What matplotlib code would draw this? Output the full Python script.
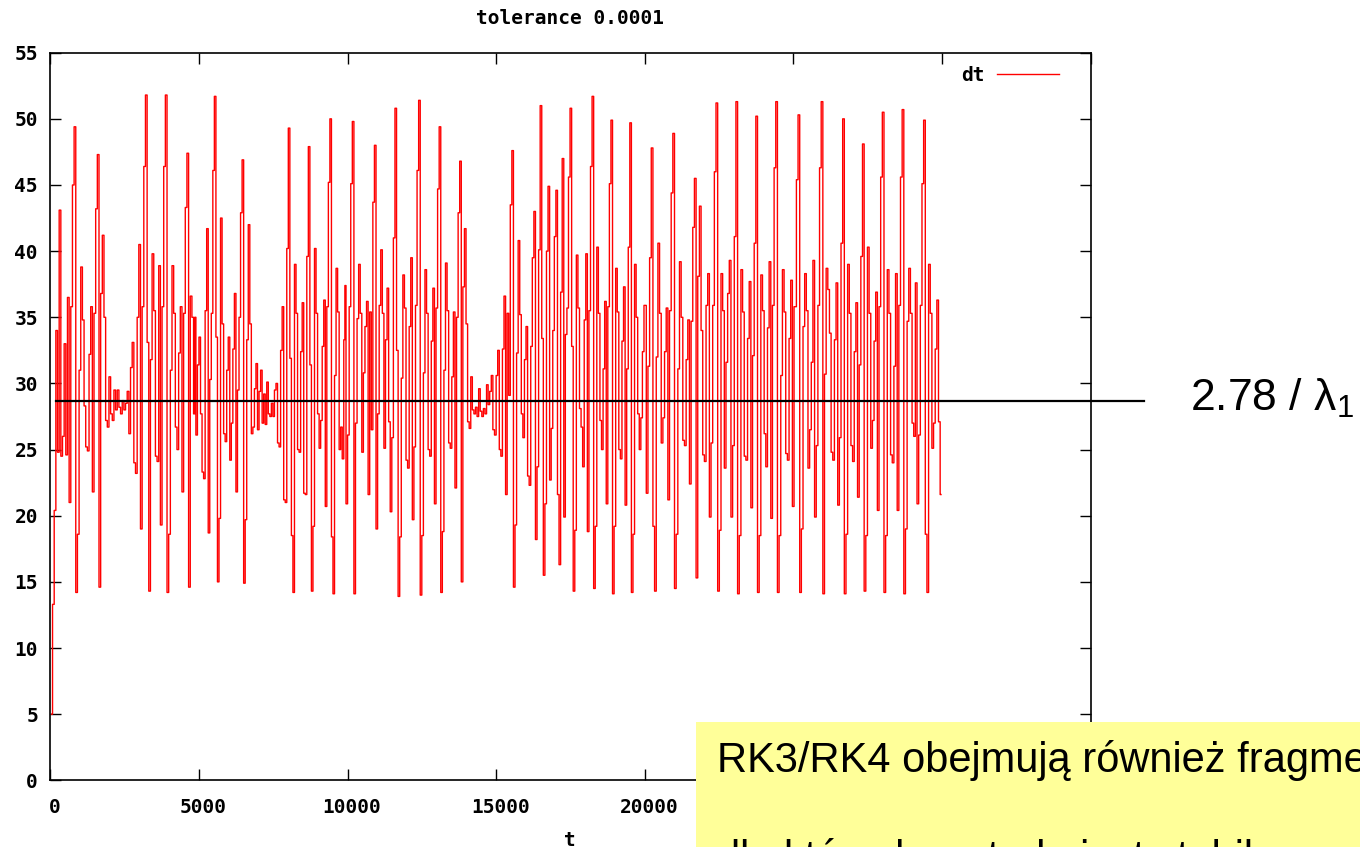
import numpy as np
import matplotlib
matplotlib.use("Agg")
import matplotlib.pyplot as plt
import matplotlib.transforms as mtransforms
from matplotlib.patches import Rectangle

# step size dt, in six consecutive stretches of t
seg_t = [(44, 4845), (4869, 9896), (9919, 14913), (14970, 19997), (20020, 25047), (25071, 29963)]

seg1 = [5.0, 13.3, 20.4, 34.0, 24.8, 43.1, 24.5, 26.0, 33.0, 24.6, 36.5, 21.0, 35.8, 45.0, 49.4, 14.2,
        18.6, 31.0, 38.8, 34.8, 28.3, 25.2, 24.9, 32.2, 35.8, 21.8, 35.3, 43.2, 47.3, 14.6, 36.8, 41.2,
        35.0, 27.2, 26.7, 30.5, 27.7, 27.2, 29.5, 28.0, 29.5, 28.2, 27.7, 28.7, 28.0, 28.5, 29.4, 26.2,
        31.2, 33.1, 24.0, 23.2, 35.0, 40.5, 19.0, 35.8, 46.4, 51.8, 33.1, 14.3, 31.8, 39.8, 35.5, 24.5,
        24.1, 38.9, 19.3, 35.8, 46.4, 51.8, 14.2, 18.6, 31.0, 38.9, 35.3, 26.7, 25.0, 32.3, 35.8, 21.8,
        35.3, 43.3, 47.4, 14.6, 36.6, 35.0, 27.7]
seg2 = [35.0, 26.1, 31.4, 33.5, 27.7, 23.3, 22.8, 35.5, 41.7, 18.7, 30.3, 35.3, 46.1, 51.7, 33.5, 15.0,
        19.8, 42.5, 34.5, 26.2, 25.6, 31.0, 33.5, 24.2, 27.0, 32.6, 36.8, 21.8, 29.5, 35.0, 42.9, 46.9,
        14.9, 19.7, 33.3, 42.0, 34.5, 26.2, 26.7, 29.6, 31.5, 26.5, 29.4, 31.0, 27.0, 29.2, 26.9, 30.1,
        27.7, 27.5, 28.5, 27.5, 29.5, 30.0, 25.5, 25.2, 32.5, 35.8, 21.2, 21.0, 40.2, 49.3, 31.9, 18.5,
        14.2, 39.0, 35.3, 25.0, 24.8, 32.4, 36.1, 21.7, 21.6, 39.6, 47.9, 31.4, 14.3, 19.2, 40.2, 35.3,
        27.7, 25.1, 27.2, 32.8, 36.3, 20.7, 35.8, 45.2, 50.0, 18.4, 14.1, 30.6, 38.7, 35.4, 25.0, 26.7,
        24.3, 33.3]
seg3 = [37.4, 20.9, 26.1, 35.8, 45.1, 49.8, 14.1, 27.0, 34.9, 39.0, 35.3, 24.8, 30.8, 34.3, 36.2, 21.6,
        35.4, 26.5, 43.7, 48.0, 19.0, 27.7, 35.9, 40.1, 35.3, 25.1, 33.3, 37.2, 27.1, 20.3, 25.9, 41.0,
        50.8, 32.5, 13.9, 18.4, 30.4, 38.2, 35.7, 24.2, 23.6, 34.3, 39.5, 19.7, 25.2, 35.9, 46.1, 51.4,
        14.0, 18.5, 30.8, 38.6, 35.3, 25.0, 24.5, 33.2, 37.2, 20.9, 35.7, 44.7, 49.4, 14.2, 18.8, 31.0,
        39.1, 35.5, 25.5, 25.1, 30.5, 35.4, 22.1, 35.0, 42.9, 46.8, 15.0, 37.3, 41.7, 34.5, 27.1, 26.6,
        30.5, 28.0, 27.7, 28.2, 27.5, 29.6, 27.9, 27.5, 28.1, 27.7, 29.9, 28.4, 29.4, 30.6, 26.5]
seg4 = [26.1, 30.6, 32.5, 25.0, 24.5, 32.6, 36.6, 21.6, 35.3, 29.1, 43.5, 47.6, 14.6, 19.3, 32.3, 40.8,
        35.2, 27.7, 25.9, 31.8, 34.3, 23.0, 22.3, 32.8, 39.5, 43.0, 18.2, 23.7, 40.1, 51.0, 33.4, 15.5,
        20.9, 40.0, 44.9, 22.7, 26.6, 34.0, 41.1, 44.6, 21.6, 16.3, 36.9, 47.0, 19.9, 33.7, 35.7, 45.6,
        50.8, 32.8, 14.3, 18.9, 39.7, 35.7, 28.1, 26.7, 23.7, 34.8, 39.8, 18.8, 35.5, 46.4, 51.7, 14.5,
        19.2, 40.3, 35.3, 27.2, 25.0, 31.1, 36.2, 20.9, 35.8, 45.1, 49.9, 14.1, 19.2, 38.7, 35.4, 25.0,
        24.3, 33.2, 37.3, 20.8, 31.1, 40.3, 49.7, 14.2, 18.6, 39.0, 35.0, 27.7, 25.0, 27.4, 32.4, 35.9]
seg5 = [35.9, 21.7, 31.3, 39.5, 47.8, 19.2, 14.3, 32.0, 40.6, 35.3, 25.5, 27.4, 32.4, 35.7, 21.2, 35.5,
        44.4, 48.9, 14.5, 18.6, 31.1, 39.2, 35.0, 25.7, 25.3, 31.8, 34.8, 22.4, 34.7, 41.8, 45.5, 15.3,
        38.1, 43.4, 34.0, 24.6, 24.1, 35.9, 38.3, 19.9, 25.5, 35.9, 46.0, 51.2, 14.3, 18.9, 38.3, 35.5,
        23.6, 31.6, 36.8, 39.3, 19.9, 25.3, 41.1, 51.3, 14.1, 18.5, 38.6, 35.4, 24.5, 24.2, 33.4, 37.7,
        20.6, 32.1, 40.6, 50.2, 14.2, 18.5, 38.2, 35.5, 26.2, 23.7, 34.2, 39.2, 19.8, 35.9, 46.3, 51.3,
        14.2, 18.5, 30.6, 38.6, 35.4, 24.7, 24.2, 33.4, 37.8, 20.7, 35.8]
seg6 = [35.8, 45.4, 50.3, 14.2, 19.0, 34.3, 38.3, 35.5, 23.6, 26.5, 31.6, 39.3, 19.9, 25.3, 35.9, 46.3,
        51.3, 14.1, 30.7, 38.7, 37.1, 33.8, 24.8, 24.2, 33.3, 37.6, 20.8, 25.9, 40.6, 50.0, 14.1, 18.6,
        39.0, 35.3, 25.3, 24.1, 32.4, 36.1, 21.4, 31.4, 39.6, 48.1, 14.3, 18.5, 40.3, 35.3, 25.1, 27.2,
        33.2, 36.9, 20.4, 35.8, 45.6, 50.5, 14.2, 18.5, 38.6, 35.3, 24.6, 24.0, 31.3, 38.3, 20.4, 35.9,
        45.6, 50.7, 14.1, 19.0, 34.7, 38.7, 35.3, 27.0, 26.0, 37.6, 20.9, 26.1, 35.9, 45.1, 49.9, 18.6,
        14.2, 39.0, 35.3, 25.1, 27.0, 32.6, 36.3, 27.1, 21.6]

level = 28.7          # 2.78 / lambda_1
x_ticks = [0, 5000, 10000, 15000, 20000, 25000, 30000, 35000]
y_ticks = [0, 5, 10, 15, 20, 25, 30, 35, 40, 45, 50, 55]

segs = [seg1, seg2, seg3, seg4, seg5, seg6]
t = np.concatenate([np.linspace(a, b, len(s)) for (a, b), s in zip(seg_t, segs)])
dt = np.concatenate(segs)

mono = dict(family="DejaVu Sans Mono", weight="bold", size=14)

plt.rcParams["mathtext.fontset"] = "custom"
plt.rcParams["mathtext.rm"] = "Liberation Sans"
plt.rcParams["mathtext.it"] = "Liberation Sans"

fig = plt.figure(figsize=(13.6, 8.47), dpi=100)
ax = fig.add_axes([50.4 / 1360, 1 - 780.3 / 847, (1090.7 - 50.4) / 1360, (780.3 - 52.7) / 847])

ax.plot(t, dt, color="#ff0000", lw=1.0, drawstyle="steps-mid", label="dt")
ax.axhline(level, xmin=0.005, xmax=1.0515, color="black", lw=1.6, clip_on=False, zorder=5)

ax.set_xlim(0, 35000)
ax.set_ylim(0, 55)
ax.set_xticks(x_ticks)
ax.set_yticks(y_ticks)
ax.tick_params(direction="in", length=8, width=1, top=True, right=True, pad=9)
ax.tick_params(axis="x", pad=13)
shift = mtransforms.ScaledTranslation(4 / 100, 0, fig.dpi_scale_trans)
for lab in ax.get_xticklabels():
    lab.set_fontproperties(mono)
    lab.set_transform(lab.get_transform() + shift)
for lab in ax.get_yticklabels():
    lab.set_fontproperties(mono)
for sp in ax.spines.values():
    sp.set_linewidth(1.2)

leg = ax.legend(loc="upper right", markerfirst=False, frameon=False, handlelength=3.2,
                prop=mono, bbox_to_anchor=(0.977, 0.992), borderaxespad=0, handletextpad=0.6)

fig.text(570 / 1360, 1 - 18 / 847, "tolerance 0.0001", ha="center", va="center", **mono)
fig.text(570 / 1360, 1 - 840 / 847, "t", ha="center", va="center", **mono)

fig.text(1190 / 1360, 1 - 398 / 847, r"2.78 / $\mathrm{\lambda}_{\mathrm{1}}$", ha="left", va="center",
         family=["Liberation Sans", "DejaVu Sans"], size=32)

# yellow note over the bottom right corner
fig.add_artist(Rectangle((696.5 / 1360, 0), 1 - 696.5 / 1360, 1 - 721.7 / 847,
                         transform=fig.transFigure, facecolor="#ffff99", edgecolor="none", zorder=10))
fig.text(717 / 1360, 1 - 771.7 / 847, "RK3/RK4 obejmują również fragmenty", ha="left", va="baseline",
         family=["Liberation Sans", "DejaVu Sans"], size=30, zorder=11)
fig.text(717 / 1360, 1 - 870 / 847, "dla których metoda jest stabilna", ha="left", va="baseline",
         family=["Liberation Sans", "DejaVu Sans"], size=30, zorder=11)

fig.savefig("out.png", dpi=100)
